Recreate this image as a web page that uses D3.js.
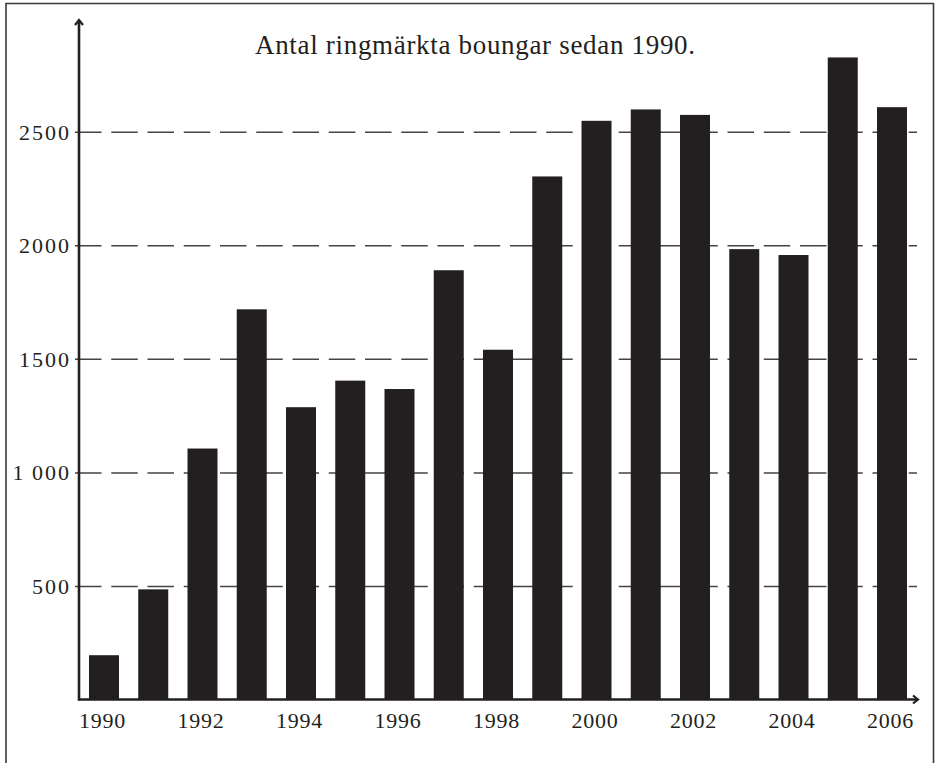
<!DOCTYPE html>
<html>
<head>
<meta charset="utf-8">
<script src="https://cdn.jsdelivr.net/npm/d3@7"></script>
<style>
  html, body { margin: 0; padding: 0; background: #fff; }
  svg { display: block; }
  text { font-family: "Liberation Serif", "DejaVu Serif", serif; fill: #231f20; }
</style>
</head>
<body>
<svg id="chart" width="935" height="763"></svg>
<script>
const title = "Antal ringmärkta boungar sedan 1990.";
const years = [1990, 1991, 1992, 1993, 1994, 1995, 1996, 1997, 1998, 1999, 2000, 2001, 2002, 2003, 2004, 2005, 2006];
const counts = [195, 485, 1105, 1718, 1287, 1404, 1367, 1890, 1540, 2303, 2548, 2598, 2574, 1983, 1957, 2827, 2608];
const yTickValues = [500, 1000, 1500, 2000, 2500];
const yTickLabels = ["500", "1\u2009000", "1500", "2000", "2500"];
const xTickYears = [1990, 1992, 1994, 1996, 1998, 2000, 2002, 2004, 2006];

const svg = d3.select("#chart");
const ink = "#231f20";

// frame
svg.append("path")
  .attr("d", "M6,770 L6,3.5 L933.5,3.5 L933.5,770")
  .attr("fill", "none").attr("stroke", "#3a3a3a").attr("stroke-width", 1.6);

const axisX0 = 79, axisX1 = 917, axisY = 699.5;

const x = d3.scaleBand().domain(years).range([axisX0, axisX1]).paddingInner(0.391).paddingOuter(0.203);
const y = d3.scaleLinear().domain([0, 2500]).range([axisY, 131.7]);

// gridlines + y tick labels
const yAxis = d3.axisLeft(y)
  .tickValues(yTickValues)
  .tickFormat((d, i) => yTickLabels[i])
  .tickSizeInner(-(axisX1 - axisX0))
  .tickSizeOuter(0)
  .tickPadding(0);
const gy = svg.append("g").attr("transform", `translate(${axisX0},0)`).call(yAxis);
gy.select(".domain").remove();
gy.selectAll(".tick line")
  .attr("x1", -4)
  .attr("stroke", "#444")
  .attr("stroke-width", 1.5)
  .attr("stroke-dasharray", "26.5,9.75");
gy.selectAll(".tick text")
  .attr("x", -8)
  .attr("dy", "0.34em")
  .attr("font-size", 22)
  .attr("letter-spacing", 2)
  .attr("font-family", "Liberation Serif, serif")
  .attr("fill", ink);

// bars
svg.append("g").selectAll("rect")
  .data(years)
  .join("rect")
  .attr("x", d => x(d))
  .attr("width", x.bandwidth())
  .attr("y", (d, i) => y(counts[i]))
  .attr("height", (d, i) => axisY - y(counts[i]))
  .attr("fill", ink);

// x axis labels
const xAxis = d3.axisBottom(x).tickValues(xTickYears).tickSize(0).tickPadding(0);
const gx = svg.append("g").attr("transform", `translate(0,${axisY})`).call(xAxis);
gx.select(".domain").remove();
gx.selectAll(".tick text")
  .attr("x", -1.5)
  .attr("y", 28)
  .attr("dy", 0)
  .attr("font-size", 22)
  .attr("letter-spacing", 0.8)
  .attr("font-family", "Liberation Serif, serif")
  .attr("fill", ink);

// axis lines with arrows
svg.append("line")
  .attr("x1", axisX0).attr("y1", axisY + 1).attr("x2", axisX0).attr("y2", 20)
  .attr("stroke", ink).attr("stroke-width", 2.6);
svg.append("path")
  .attr("d", `M${axisX0 - 4},25 L${axisX0},20 L${axisX0 + 4},25`)
  .attr("fill", "none").attr("stroke", ink).attr("stroke-width", 2.2);
svg.append("line")
  .attr("x1", axisX0 - 1).attr("y1", axisY).attr("x2", 918).attr("y2", axisY)
  .attr("stroke", ink).attr("stroke-width", 2.6);
svg.append("path")
  .attr("d", `M913,${axisY - 4} L918,${axisY} L913,${axisY + 4}`)
  .attr("fill", "none").attr("stroke", ink).attr("stroke-width", 2.2);

// title
svg.append("text")
  .attr("x", 475).attr("y", 54)
  .attr("text-anchor", "middle")
  .attr("font-size", 27)
  .attr("textLength", 440)
  .attr("lengthAdjust", "spacing")
  .text(title);
</script>
</body>
</html>
